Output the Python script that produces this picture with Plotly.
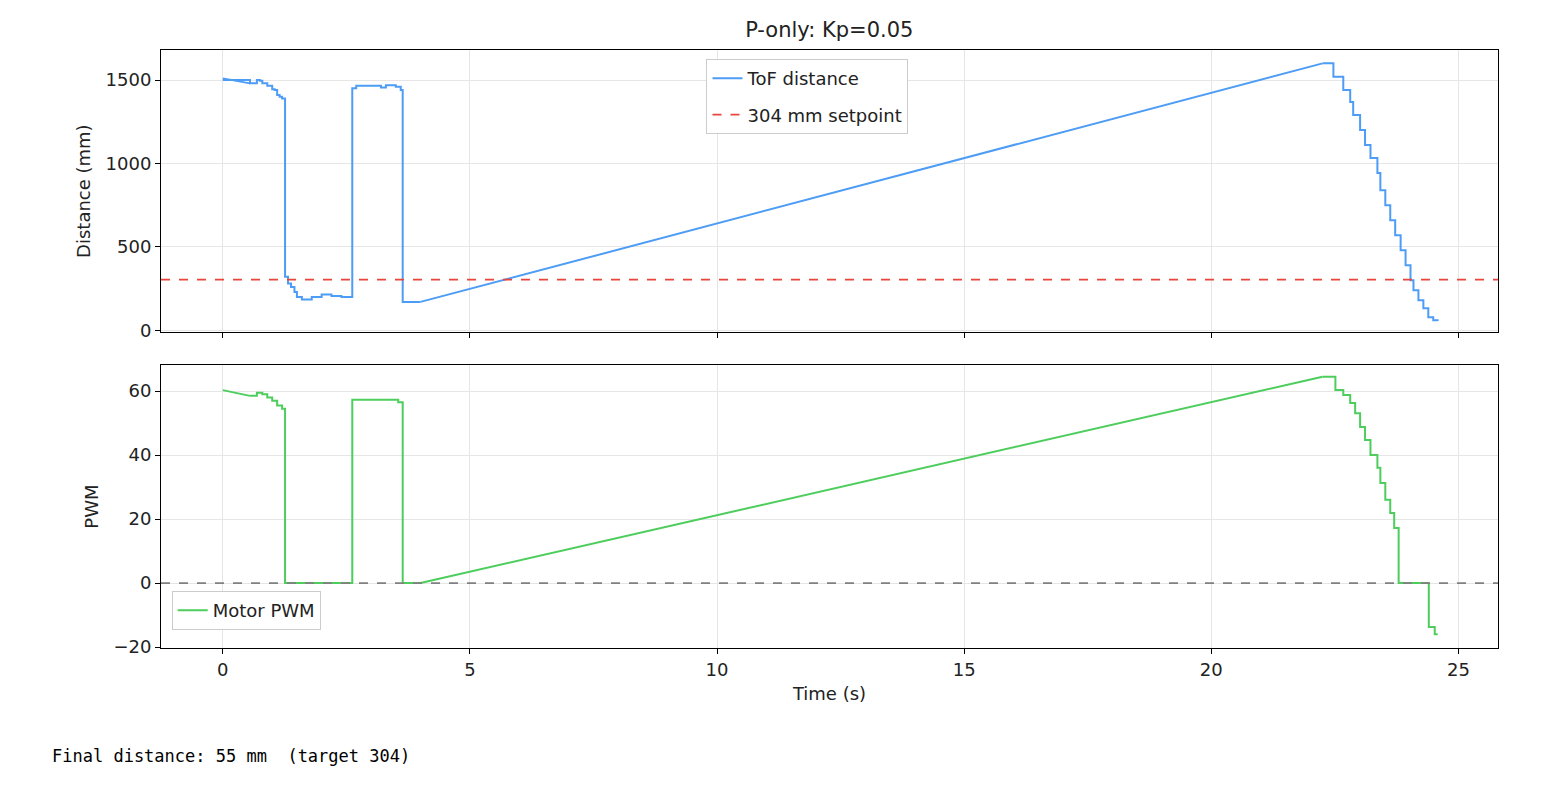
import plotly.graph_objects as go

# ToF distance samples (None = gap where the straight ramp is drawn separately)
t_dist = [0, 0.55, 0.62, 0.69, 0.75, 0.8, 0.85, 0.9, 0.95, 1.0, 1.05, 1.1, 1.15, 1.2, 1.26,
          1.32, 1.38, 1.45, 1.5, 1.6, 1.8, 2.0, 2.2, 2.4, 2.62, 2.7, 3.0, 3.2, 3.3, 3.5, 3.6,
          3.64, 4.0, None,
          22.25, 22.4, 22.47, 22.67, 22.81, 22.87, 23.01, 23.11, 23.22, 23.36, 23.42, 23.52,
          23.62, 23.72, 23.83, 23.93, 24.03, 24.09, 24.19, 24.29, 24.39, 24.49, 24.58]
dist = [1500, 1480, 1480, 1500, 1495, 1480, 1480, 1465, 1465, 1445, 1440, 1410, 1400, 1390, 320,
        280, 260, 230, 200, 185, 200, 215, 205, 200, 1450, 1465, 1465, 1455, 1468, 1460, 1440,
        170, 170, None,
        1600, 1600, 1520, 1440, 1368, 1290, 1200, 1110, 1032, 942, 840, 750,
        660, 570, 480, 390, 300, 240, 180, 132, 78, 60, 55]
start_t = [0, 0.55]
start_dist = [1510, 1480]
ramp_t = [4.0, 22.25]
ramp_dist = [170, 1600]

# Motor PWM samples
t_pwm = [0.55, 0.69, 0.8, 0.9, 1.0, 1.1, 1.2, 1.26, 2.62, 3.5, 3.55, 3.64, 4.0, None,
         22.25, 22.47, 22.51, 22.67, 22.81, 22.91, 23.01, 23.11, 23.22, 23.36, 23.42, 23.52,
         23.62, 23.7, 23.79, 24.4, 24.52, 24.58]
pwm = [58.5, 59.5, 59, 58, 57, 55.5, 54.5, 0, 57.3, 57.3, 56.5, 0, 0, None,
       64.5, 64.5, 60.3, 58.8, 56.3, 53.1, 48.8, 44.7, 40, 36, 31.3, 26,
       21.9, 17.2, 0, -13.7, -16, -16]
start_pwm = [60.3, 58.5]
ramp_pwm = [0, 64.5]

setpoint = 304
final_text = "Final distance: 55 mm  (target 304)"

blue = "#4d9cf5"
green = "#4ccd5c"
font = "DejaVu Sans"

fig = go.Figure()
fig.add_trace(go.Scatter(x=t_dist, y=dist, mode="lines", line=dict(color=blue, width=2, shape="hv"),
                         name="ToF distance", legendgroup="d", connectgaps=False))
for xs, ys in [(start_t, start_dist), (ramp_t, ramp_dist)]:
    fig.add_trace(go.Scatter(x=xs, y=ys, mode="lines", line=dict(color=blue, width=2),
                             showlegend=False, legendgroup="d"))
fig.add_trace(go.Scatter(x=[-1.25, 25.8], y=[setpoint, setpoint], mode="lines",
                         line=dict(color="#e8453c", width=1.8, dash="dash"), name=f"{setpoint} mm setpoint"))

fig.add_trace(go.Scatter(x=t_pwm, y=pwm, mode="lines", line=dict(color=green, width=2, shape="hv"),
                         name="Motor PWM", legend="legend2", legendgroup="p", xaxis="x2", yaxis="y2"))
for xs, ys in [(start_t, start_pwm), (ramp_t, ramp_pwm)]:
    fig.add_trace(go.Scatter(x=xs, y=ys, mode="lines", line=dict(color=green, width=2),
                             showlegend=False, legend="legend2", xaxis="x2", yaxis="y2"))
fig.add_trace(go.Scatter(x=[-1.25, 25.8], y=[0, 0], mode="lines", line=dict(color="#808080", width=1.8, dash="dash"),
                         showlegend=False, legend="legend2", xaxis="x2", yaxis="y2"))

ax = dict(showline=True, linecolor="black", linewidth=1, mirror=True, ticks="outside",
          ticklen=5, tickcolor="black", showgrid=True, gridcolor="#e6e6e6", zeroline=False,
          tickfont=dict(size=18))

fig.update_layout(
    width=1538, height=776,
    margin=dict(l=153, r=48, t=42, b=136),
    plot_bgcolor="white", paper_bgcolor="white",
    font=dict(family=font, size=17, color="#222"),
    title=dict(text="P-only: Kp=0.05", x=0.534, xanchor="center", y=0.9716, yanchor="middle",
               font=dict(size=21)),
    xaxis=dict(ax, range=[-1.25, 25.8], dtick=5, showticklabels=False, anchor="y", domain=[0, 1]),
    yaxis=dict(ax, range=[-12, 1680], tickvals=[0, 500, 1000, 1500], domain=[0.528, 1],
               title=dict(text="Distance (mm)", standoff=10, font=dict(size=18))),
    xaxis2=dict(ax, range=[-1.25, 25.8], dtick=5, anchor="y2", matches="x",
                title=dict(text="Time (s)", standoff=8, font=dict(size=18))),
    yaxis2=dict(ax, range=[-20.3, 68.1], tickvals=[-20, 0, 20, 40, 60], ticktext=["−20", "0", "20", "40", "60"],
                domain=[0, 0.473], title=dict(text="PWM", standoff=10, font=dict(size=18))),
    legend=dict(x=0.408, y=0.985, xanchor="left", yanchor="top", bgcolor="white",
                bordercolor="#cccccc", borderwidth=1, font=dict(size=18)),
    legend2=dict(x=0.008, y=0.03, xanchor="left", yanchor="bottom", bgcolor="white",
                 bordercolor="#cccccc", borderwidth=1, font=dict(size=18)),
    annotations=[dict(text=final_text, xref="paper", yref="paper", x=-0.083, y=-0.18,
                      xanchor="left", yanchor="middle", showarrow=False,
                      font=dict(family="DejaVu Sans Mono", size=17, color="black"))],
)

fig.write_html("out.html")
